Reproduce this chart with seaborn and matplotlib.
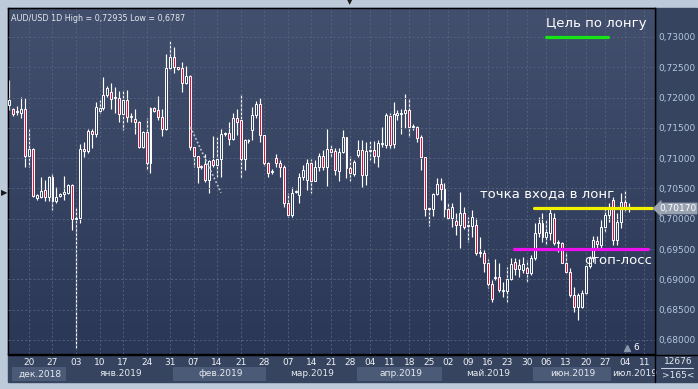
import numpy as np
import pandas as pd
import matplotlib
matplotlib.use('Agg')
import matplotlib.pyplot as plt
import matplotlib.transforms as mtransforms
from matplotlib.colors import LinearSegmentedColormap
from matplotlib.patches import Rectangle
from matplotlib.lines import Line2D
import seaborn as sns

sns.set_theme(style='dark')
plt.rcParams['font.family'] = ['DejaVu Sans']

# дневные свечи AUD/USD, 20.12.2018 - 05.07.2019
opens = [
    0.7188, 0.7181, 0.7176, 0.7175, 0.7181, 0.7104, 0.7115, 0.7034, 0.7036, 0.7048,
    0.7036, 0.7069, 0.7029, 0.7038, 0.7041, 0.7043, 0.7056, 0.7000, 0.7001, 0.7115,
    0.7112, 0.7145, 0.7140, 0.7178, 0.7183, 0.7204, 0.7209, 0.7199, 0.7199, 0.7173,
    0.7196, 0.7168, 0.7165, 0.7160, 0.7118, 0.7143, 0.7092, 0.7183, 0.7180, 0.7168,
    0.7148, 0.7249, 0.7267, 0.7250, 0.7249, 0.7224, 0.7236, 0.7118, 0.7104, 0.7085,
    0.7090, 0.7064, 0.7097, 0.7089, 0.7099, 0.7140, 0.7142, 0.7132, 0.7166, 0.7163,
    0.7099, 0.7128, 0.7146, 0.7171, 0.7189, 0.7138, 0.7092, 0.7077, 0.7100, 0.7092,
    0.7085, 0.7026, 0.7006, 0.7044, 0.7039, 0.7069, 0.7064, 0.7092, 0.7062, 0.7085,
    0.7104, 0.7085, 0.7115, 0.7112, 0.7079, 0.7110, 0.7135, 0.7084, 0.7074, 0.7105,
    0.7113, 0.7072, 0.7112, 0.7113, 0.7104, 0.7123, 0.7122, 0.7170, 0.7123, 0.7171,
    0.7173, 0.7175, 0.7180, 0.7151, 0.7151, 0.7135, 0.7102, 0.7016, 0.7016, 0.7041,
    0.7057, 0.7049, 0.7016, 0.7001, 0.6996, 0.6990, 0.7010, 0.6988, 0.6988, 0.6990,
    0.6944, 0.6944, 0.6927, 0.6892, 0.6902, 0.6904, 0.6881, 0.6881, 0.6901, 0.6929,
    0.6917, 0.6915, 0.6919, 0.6911, 0.6935, 0.6977, 0.6993, 0.6970, 0.6977, 0.7001,
    0.6960, 0.6960, 0.6927, 0.6912, 0.6874, 0.6854, 0.6854, 0.6877, 0.6922, 0.6935,
    0.6963, 0.6957, 0.6986, 0.7006, 0.7031, 0.6965, 0.6995, 0.7028, 0.7016,
]
closes = [
    0.7196, 0.7173, 0.7178, 0.7181, 0.7104, 0.7115, 0.7038, 0.7039, 0.7046, 0.7036,
    0.7069, 0.7029, 0.7036, 0.7041, 0.7044, 0.7056, 0.7000, 0.7001, 0.7115, 0.7112,
    0.7145, 0.7140, 0.7184, 0.7183, 0.7204, 0.7216, 0.7198, 0.7201, 0.7173, 0.7196,
    0.7168, 0.7170, 0.7160, 0.7118, 0.7143, 0.7092, 0.7183, 0.7178, 0.7168, 0.7148,
    0.7249, 0.7267, 0.7250, 0.7247, 0.7224, 0.7236, 0.7118, 0.7104, 0.7085, 0.7087,
    0.7064, 0.7095, 0.7089, 0.7099, 0.7140, 0.7142, 0.7132, 0.7166, 0.7160, 0.7099,
    0.7130, 0.7130, 0.7171, 0.7189, 0.7138, 0.7092, 0.7076, 0.7079, 0.7092, 0.7085,
    0.7026, 0.7006, 0.7043, 0.7046, 0.7069, 0.7081, 0.7092, 0.7062, 0.7085, 0.7104,
    0.7085, 0.7115, 0.7110, 0.7081, 0.7110, 0.7135, 0.7084, 0.7076, 0.7094, 0.7113,
    0.7072, 0.7112, 0.7113, 0.7104, 0.7125, 0.7125, 0.7171, 0.7122, 0.7173, 0.7175,
    0.7175, 0.7180, 0.7151, 0.7153, 0.7133, 0.7102, 0.7016, 0.7018, 0.7041, 0.7057,
    0.7049, 0.7016, 0.7001, 0.7019, 0.6990, 0.7010, 0.6986, 0.6990, 0.7003, 0.6944,
    0.6945, 0.6927, 0.6892, 0.6868, 0.6904, 0.6882, 0.6882, 0.6901, 0.6925, 0.6917,
    0.6924, 0.6925, 0.6911, 0.6935, 0.6977, 0.6993, 0.6970, 0.6978, 0.7010, 0.6960,
    0.6962, 0.6927, 0.6912, 0.6874, 0.6854, 0.6874, 0.6877, 0.6922, 0.6935, 0.6965,
    0.6958, 0.6986, 0.7006, 0.7019, 0.6965, 0.6995, 0.7028, 0.7016, 0.7017,
]
highs = [
    0.7229, 0.7183, 0.7186, 0.7201, 0.7199, 0.7148, 0.7117, 0.7041, 0.7069, 0.7064,
    0.7071, 0.7076, 0.7053, 0.7043, 0.7071, 0.7057, 0.7057, 0.7018, 0.7123, 0.7127,
    0.7148, 0.7148, 0.7193, 0.7196, 0.7234, 0.7219, 0.7224, 0.7217, 0.7211, 0.7212,
    0.7212, 0.7175, 0.7181, 0.7161, 0.7145, 0.7166, 0.7184, 0.7184, 0.7203, 0.7181,
    0.7272, 0.72935, 0.7283, 0.7250, 0.7259, 0.7252, 0.7237, 0.7118, 0.7104, 0.7089,
    0.7107, 0.7097, 0.7137, 0.7135, 0.7148, 0.7143, 0.7160, 0.7175, 0.7181, 0.7206,
    0.7132, 0.7132, 0.7184, 0.7194, 0.7199, 0.7138, 0.7094, 0.7082, 0.7107, 0.7097,
    0.7089, 0.7043, 0.7052, 0.7048, 0.7076, 0.7089, 0.7099, 0.7099, 0.7097, 0.7109,
    0.7113, 0.7148, 0.7122, 0.7117, 0.7117, 0.7146, 0.7135, 0.7104, 0.7097, 0.7130,
    0.7130, 0.7127, 0.7128, 0.7128, 0.7130, 0.7151, 0.7175, 0.7175, 0.7193, 0.7180,
    0.7181, 0.7206, 0.7199, 0.7156, 0.7153, 0.7138, 0.7102, 0.7019, 0.7043, 0.7067,
    0.7067, 0.7059, 0.7026, 0.7026, 0.7010, 0.7044, 0.7019, 0.7003, 0.7015, 0.7001,
    0.6970, 0.6949, 0.6934, 0.6899, 0.6934, 0.6927, 0.6896, 0.6920, 0.6935, 0.6935,
    0.6934, 0.6937, 0.6932, 0.6940, 0.6993, 0.7003, 0.7010, 0.6998, 0.7019, 0.7010,
    0.6965, 0.6962, 0.6945, 0.6919, 0.6887, 0.6877, 0.6882, 0.6925, 0.6939, 0.6972,
    0.6972, 0.6998, 0.7019, 0.7026, 0.7036, 0.7010, 0.7043, 0.7048, 0.7026,
]
lows = [
    0.7180, 0.7170, 0.7171, 0.7166, 0.7085, 0.7085, 0.7036, 0.7031, 0.7034, 0.7029,
    0.7029, 0.7014, 0.7026, 0.7036, 0.7031, 0.7041, 0.6982, 0.6787, 0.6993, 0.7102,
    0.7109, 0.7117, 0.7135, 0.7175, 0.7180, 0.7201, 0.7181, 0.7175, 0.7160, 0.7146,
    0.7160, 0.7160, 0.7140, 0.7117, 0.7117, 0.7081, 0.7076, 0.7176, 0.7163, 0.7137,
    0.7146, 0.7245, 0.7241, 0.7245, 0.7209, 0.7222, 0.7113, 0.7085, 0.7059, 0.7082,
    0.7061, 0.7043, 0.7085, 0.7069, 0.7069, 0.7137, 0.7122, 0.7130, 0.7138, 0.7067,
    0.7081, 0.7125, 0.7130, 0.7166, 0.7127, 0.7087, 0.7069, 0.7074, 0.7085, 0.7069,
    0.7019, 0.7003, 0.7003, 0.7043, 0.7026, 0.7064, 0.7048, 0.7043, 0.7062, 0.7079,
    0.7081, 0.7054, 0.7102, 0.7072, 0.7062, 0.7109, 0.7067, 0.7062, 0.7071, 0.7102,
    0.7052, 0.7056, 0.7097, 0.7092, 0.7085, 0.7118, 0.7117, 0.7115, 0.7117, 0.7163,
    0.7140, 0.7150, 0.7135, 0.7146, 0.7127, 0.7081, 0.7005, 0.6988, 0.7005, 0.7039,
    0.7031, 0.7003, 0.6999, 0.6986, 0.6973, 0.6952, 0.6983, 0.6962, 0.6970, 0.6940,
    0.6937, 0.6912, 0.6886, 0.6863, 0.6899, 0.6879, 0.6871, 0.6863, 0.6899, 0.6907,
    0.6904, 0.6911, 0.6896, 0.6907, 0.6932, 0.6970, 0.6962, 0.6957, 0.6965, 0.6957,
    0.6945, 0.6927, 0.6911, 0.6871, 0.6846, 0.6833, 0.6853, 0.6874, 0.6919, 0.6929,
    0.6949, 0.6952, 0.6978, 0.6995, 0.6957, 0.6957, 0.6985, 0.7011, 0.7011,
]

# подписи дат (номер бара) и месяцев
day_pos = [5, 11, 17, 23, 29, 35, 41, 47, 53, 59, 65, 71, 77, 82, 87, 92, 97,
           102, 107, 112, 117, 122, 127, 132, 137, 142, 147, 152, 157, 162]
day_labels = ['20', '27', '03', '10', '17', '24', '31', '07', '14', '21', '28',
              '07', '14', '21', '28', '04', '11', '18', '25', '02', '09', '16',
              '23', '30', '06', '13', '20', '27', '04', '11']
month_names = ['дек.2018', 'янв.2019', 'фев.2019', 'мар.2019',
               'апр.2019', 'май.2019', 'июн.2019', 'июл.2019']
month_centers = [7.8, 28.5, 53.8, 77.2, 99.9, 122.1, 143.8, 159.6]
month_spans = [(0.7, 14.7), (14.7, 41.8), (41.8, 65.7), (65.7, 88.7),
               (88.7, 110.6), (110.6, 133.6), (133.6, 153.7), (153.7, 164.7)]

price_ticks = [0.680, 0.685, 0.690, 0.695, 0.700, 0.705, 0.710, 0.715, 0.720, 0.725, 0.730]

# уровни сделки
target_level, target_bars = 0.7300, (136.9, 152.7)
entry_level, entry_bars = 0.7017, (133.8, 163.9)
stop_level, stop_bars = 0.6950, (128.7, 162.9)
trend_bars = [46.2, 54.0]
trend_prices = [0.7151, 0.7043]
last_price = 0.70170

df = pd.DataFrame({'open': opens, 'high': highs, 'low': lows, 'close': closes})
df['bar'] = np.arange(len(df))
df['up'] = df['close'] >= df['open']

W, H = 698, 389
fig = plt.figure(figsize=(W / 100, H / 100), dpi=100)
fig.patch.set_facecolor('#bccad9')


def box(x0, y0, x1, y1):
    return [x0 / W, 1 - y1 / H, (x1 - x0) / W, (y1 - y0) / H]


fig.patches.append(Rectangle((8 / W, 1 - 382 / H), 689 / W, 374 / H,
                             transform=fig.transFigure, color='#36445f', zorder=0))

xlim = (-0.35, 164.7)
ylim = (0.67769, 0.73478)

# нижняя панель с месяцами
ax_bot = fig.add_axes(box(8, 355, 655, 382))
ax_bot.set_zorder(1)
ax_bot.set_xlim(*xlim)
ax_bot.set_ylim(0, 1)
ax_bot.set_axis_off()
for i, (a, b) in enumerate(month_spans):
    col = '#4b5a77' if i % 2 == 0 else '#36445f'
    ax_bot.add_patch(Rectangle((a, 0.04), b - a - 0.3, 0.52, color=col, lw=0))
for name, c in zip(month_names, month_centers):
    ax_bot.text(c, 0.30, name, ha='center', va='center', fontsize=6.5, color='#e6eaf0')

ax = fig.add_axes(box(8, 8, 655, 354))
ax.set_zorder(2)
cmap = LinearSegmentedColormap.from_list('bg', ['#424f6d', '#2b3756'])
ax.imshow(np.linspace(0, 1, 256).reshape(-1, 1), extent=[*xlim, *ylim],
          aspect='auto', cmap=cmap, zorder=0)

# свечи
ax.vlines(df['bar'], df['low'], df['high'], color='white', lw=0.85, zorder=2)
body_h = (df['close'] - df['open']).abs().clip(lower=0.00012)
body_b = df[['open', 'close']].min(axis=1)
fills = np.where(df['up'], '#36435f', '#e3103c')
ax.bar(df['bar'], body_h, bottom=body_b, width=0.5, color=fills,
       edgecolor='white', linewidth=0.7, zorder=3)

# уровни
for lvl, (a, b), col in [(target_level, target_bars, '#14e614'),
                         (entry_level, entry_bars, '#f2f200'),
                         (stop_level, stop_bars, '#ee10ee')]:
    sns.lineplot(x=[a, b], y=[lvl, lvl], ax=ax, color=col, linewidth=2.3,
                 zorder=5, legend=False)
sns.lineplot(x=trend_bars, y=trend_prices, ax=ax, color='#b7bfcc',
             linewidth=1.3, linestyle=(0, (1, 1.2)), zorder=4, legend=False)

txt = dict(color='white', fontsize=9.5, va='center', ha='left', zorder=6)
ax.text(137.0, 0.73214, 'Цель по лонгу', **txt)
ax.text(120.1, 0.7041, 'точка входа в лонг', **txt)
ax.text(146.7, 0.6932, 'стоп-лосс', **txt)

ax.text(0.004, 0.983, 'AUD/USD 1D High = 0,72935 Low = 0,6787', transform=ax.transAxes,
        ha='left', va='top', fontsize=5.8, color='#e4e8ee')

ax.plot([157.6], [0.6787], marker='^', ms=4, color='#8a97ad', zorder=6)
ax.text(159.3, 0.6787, '6', color='white', fontsize=6.5, va='center', ha='left')

ax.set_xlim(*xlim)
ax.set_ylim(*ylim)
ax.set_xticks(day_pos)
ax.set_xticklabels(day_labels)
ax.set_yticks(price_ticks)
ax.set_yticklabels([f'{p:.5f}'.replace('.', ',') for p in price_ticks])
ax.yaxis.tick_right()
ax.tick_params(axis='x', length=0, pad=3, labelsize=6.5, labelcolor='#eef1f6')
ax.tick_params(axis='y', length=0, pad=2.5, labelsize=6.5, labelcolor='#b4c6e0')
ax.grid(True, color='#56647f', linestyle=(0, (2.5, 2.5)), linewidth=0.6)
ax.set_axisbelow(False)
for s in ax.spines.values():
    s.set_color('black')
    s.set_linewidth(1.0)
for gl in ax.get_xgridlines() + ax.get_ygridlines():
    gl.set_zorder(1)

# метка текущей цены
trans = mtransforms.blended_transform_factory(ax.transAxes, ax.transData)
ax.text(1.006, last_price, '0,70170', transform=trans, fontsize=6.5, color='#ffffff',
        va='center', ha='left', zorder=7,
        bbox=dict(boxstyle='larrow,pad=0.15', fc='#98a2b0', ec='none'))

fig.add_artist(Line2D([655 / W, 655 / W], [1 - 382 / H, 1 - 8 / H], color='black', lw=1))
fig.add_artist(Line2D([8 / W, 697 / W], [1 - 354.5 / H] * 2, color='black', lw=1))
fig.add_artist(Line2D([661 / W, 693 / W], [1 - 368 / H] * 2, color='#c8d2e0', lw=0.8))
fig.text(678 / W, 1 - 362 / H, '12676', ha='center', va='center', fontsize=6.5, color='#e6eaf0')
fig.text(678 / W, 1 - 375 / H, '>165<', ha='center', va='center', fontsize=6.5, color='#e6eaf0')
fig.text(4 / W, 1 - 193 / H, '▶', ha='center', va='center', fontsize=6, color='#1a1a1a')
fig.text(350 / W, 1 - 2 / H, '▼', ha='center', va='center', fontsize=5, color='#1a1a1a')

fig.savefig('out.png', dpi=100, facecolor=fig.get_facecolor())
